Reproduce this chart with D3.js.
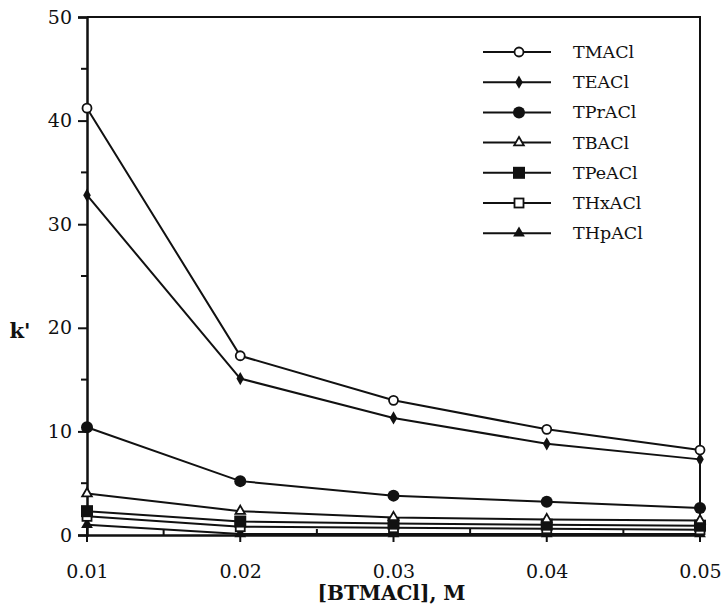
<!DOCTYPE html>
<html>
<head>
<meta charset="utf-8">
<script src="https://cdn.jsdelivr.net/npm/d3@7"></script>
<style>
  body { margin: 0; background: #fff; }
  svg text { font-family: "DejaVu Serif", "Liberation Serif", serif; fill: #111; }
</style>
</head>
<body>
<svg id="chart" width="722" height="607"></svg>
<script>
// concentrations of BTMACl, M
const conc = [0.01, 0.02, 0.03, 0.04, 0.05];

const tmacl = [41.2, 17.3, 13.0, 10.2, 8.2];
const teacl = [32.8, 15.1, 11.3, 8.8, 7.3];
const tpracl = [10.4, 5.2, 3.8, 3.2, 2.6];
const tbacl = [4.0, 2.3, 1.7, 1.5, 1.4];
const tpeacl = [2.3, 1.3, 1.1, 1.0, 0.9];
const thxacl = [1.8, 0.8, 0.7, 0.6, 0.5];
const thpacl = [1.0, 0.1, 0.1, 0.1, 0.1];

const seriesNames = ["TMACl", "TEACl", "TPrACl", "TBACl", "TPeACl", "THxACl", "THpACl"];
const seriesValues = [tmacl, teacl, tpracl, tbacl, tpeacl, thxacl, thpacl];
const markers = ["openCircle", "diamond", "circle", "openTriangle", "square", "openSquare", "triangle"];

const xTicks = [0.01, 0.02, 0.03, 0.04, 0.05];
const yTicks = [0, 10, 20, 30, 40, 50];

const margin = { top: 17, right: 22, bottom: 72, left: 87 };
const W = 722, H = 607;
const width = W - margin.left - margin.right;
const height = H - margin.top - margin.bottom;

const svg = d3.select("#chart");
const g = svg.append("g")
  .attr("transform", "translate(" + margin.left + "," + margin.top + ")");

const x = d3.scaleLinear().domain([0.01, 0.05]).range([0, width]);
const y = d3.scaleLinear().domain([0, 50]).range([height, 0]);

// frame (top and right)
g.append("path")
  .attr("d", `M0,0H${width}V${height}`)
  .attr("fill", "none")
  .attr("stroke", "#111")
  .attr("stroke-width", 2);

// x axis
const xAxis = g.append("g")
  .attr("transform", "translate(0," + height + ")")
  .call(d3.axisBottom(x).tickValues(xTicks).tickSize(0).tickPadding(30)
    .tickFormat(d3.format(".2f")));
xAxis.select(".domain").attr("stroke", "#111").attr("stroke-width", 2.5);
xAxis.selectAll(".tick text").attr("font-size", 19).style("font-family", null);

// x minor ticks (inside)
const xMinor = [0.015, 0.025, 0.035, 0.045];
g.append("g").selectAll("line").data(xMinor).join("line")
  .attr("x1", d => x(d)).attr("x2", d => x(d))
  .attr("y1", height).attr("y2", height - 6)
  .attr("stroke", "#111").attr("stroke-width", 2);
// x major ticks crossing axis
g.append("g").selectAll("line").data(xTicks).join("line")
  .attr("x1", d => x(d)).attr("x2", d => x(d))
  .attr("y1", height + 7).attr("y2", height - 7)
  .attr("stroke", "#111").attr("stroke-width", 2);

// y axis
const yAxis = g.append("g")
  .call(d3.axisLeft(y).tickValues(yTicks).tickSize(9).tickPadding(6));
yAxis.select(".domain").attr("stroke", "#111").attr("stroke-width", 2.5);
yAxis.selectAll(".tick line").attr("stroke", "#111").attr("stroke-width", 2);
yAxis.selectAll(".tick text").attr("font-size", 19).style("font-family", null);

const yMinor = [5, 15, 25, 35, 45];
g.append("g").selectAll("line").data(yMinor).join("line")
  .attr("x1", 0).attr("x2", -6)
  .attr("y1", d => y(d)).attr("y2", d => y(d))
  .attr("stroke", "#111").attr("stroke-width", 2);

// axis titles
svg.append("text")
  .attr("x", margin.left + width / 2 - 2)
  .attr("y", 600)
  .attr("text-anchor", "middle")
  .attr("font-size", 20)
  .attr("font-weight", "bold")
  .text("[BTMACl], M");

svg.append("text")
  .attr("x", 20)
  .attr("y", 338)
  .attr("text-anchor", "middle")
  .attr("font-size", 21)
  .attr("font-weight", "bold")
  .text("k'");

function drawMarker(sel, type) {
  if (type === "openCircle") {
    sel.append("circle").attr("r", 4.5).attr("fill", "#fff").attr("stroke", "#111").attr("stroke-width", 1.8);
  } else if (type === "circle") {
    sel.append("circle").attr("r", 6).attr("fill", "#111");
  } else if (type === "diamond") {
    sel.append("path").attr("d", d3.symbol(d3.symbolDiamond, 50)()).attr("fill", "#111");
  } else if (type === "openTriangle") {
    sel.append("path").attr("d", d3.symbol(d3.symbolTriangle, 40)()).attr("fill", "#fff").attr("stroke", "#111").attr("stroke-width", 1.8);
  } else if (type === "triangle") {
    sel.append("path").attr("d", d3.symbol(d3.symbolTriangle, 60)()).attr("fill", "#111");
  } else if (type === "square") {
    sel.append("rect").attr("x", -6).attr("y", -6).attr("width", 12).attr("height", 12).attr("fill", "#111");
  } else if (type === "openSquare") {
    sel.append("rect").attr("x", -4.5).attr("y", -4.5).attr("width", 9).attr("height", 9).attr("fill", "#fff").attr("stroke", "#111").attr("stroke-width", 1.8);
  }
}

const line = d3.line()
  .x((d, i) => x(conc[i]))
  .y(d => y(d));

// draw from bottom series up so open markers sit on top
for (let s = seriesValues.length - 1; s >= 0; s--) {
  const vals = seriesValues[s];
  g.append("path")
    .datum(vals)
    .attr("fill", "none")
    .attr("stroke", "#111")
    .attr("stroke-width", 2)
    .attr("d", line);
  g.append("g").selectAll("g").data(vals).join("g")
    .attr("transform", (d, i) => "translate(" + x(conc[i]) + "," + y(d) + ")")
    .each(function () { drawMarker(d3.select(this), markers[s]); });
}

// legend
const legend = svg.append("g").attr("transform", "translate(483,52)");
seriesNames.forEach((name, i) => {
  const row = legend.append("g").attr("transform", "translate(0," + (i * 30.2) + ")");
  row.append("line").attr("x1", 0).attr("x2", 68).attr("y1", 0).attr("y2", 0)
    .attr("stroke", "#111").attr("stroke-width", 2);
  const m = row.append("g").attr("transform", "translate(36,0)");
  drawMarker(m, markers[i]);
  row.append("text").attr("x", 90).attr("y", 6).attr("font-size", 17.5).text(name);
});
</script>
</body>
</html>
